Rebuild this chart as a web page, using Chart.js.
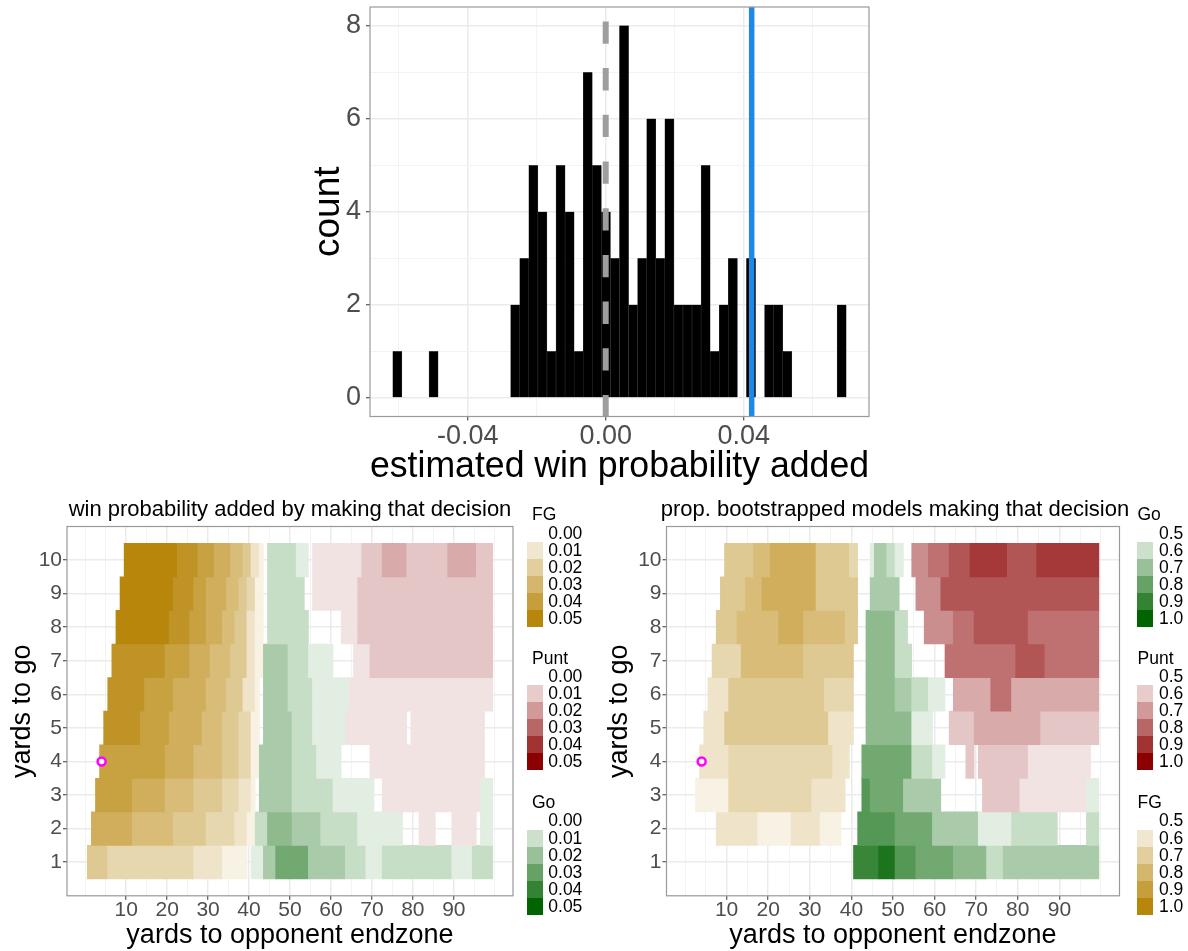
<!DOCTYPE html>
<html>
<head>
<meta charset="utf-8">
<script src="https://cdn.jsdelivr.net/npm/chart.js@4.4.1/dist/chart.umd.min.js"></script>
<style>
  html, body { margin: 0; padding: 0; background: #fff; }
  #page { position: relative; width: 1188px; height: 951px; overflow: hidden; font-family: 'Liberation Sans', Arial, sans-serif; }
  canvas { position: absolute; }
  .panel-title { position: absolute; font-size: 22px; line-height: 22px; white-space: nowrap; transform: translateX(-50%); color: #000; }
  .lg { position: absolute; font-size: 17.5px; color: #000; white-space: nowrap; }
  .lg-title { line-height: 18px; }
  .lg-key { width: 16px; height: 17px; }
  .lg-label { line-height: 17px; }
</style>
</head>
<body>
<div id="page">
  <canvas id="histChart" width="600" height="490" style="left:300px;top:0"></canvas>
  <canvas id="wpaChart" width="525" height="451" style="left:0;top:500px"></canvas>
  <canvas id="propChart" width="530" height="451" style="left:600px;top:500px"></canvas>
  <div class="panel-title" style="left:290px;top:498px">win probability added by making that decision</div>
  <div class="panel-title" style="left:895px;top:498px">prop. bootstrapped models making that decision</div>
</div>
<script>
// ---- histogram data ----
const binStart = -0.0617;
const binWidth = 0.002628;
const binCounts = [1,0,0,0,1, 0,0,0,0,0,0,0,0,
  2,3,5,4,1,5,4,1,7,5,4,3,8,2,3,6,3,6,2,2,2,5,1,2,3,
  0,3,0,2,2,1, 0,0,0,0,0, 2];
const histXTicks = [-0.04, 0, 0.04];
const histYTicks = [0, 2, 4, 6, 8];
const zeroLine = 0;
const observedWpa = 0.0423;

// ---- heatmap data ----
const yardsToGo = [1, 2, 3, 4, 5, 6, 7, 8, 9, 10];
const yardTicks = [10, 20, 30, 40, 50, 60, 70, 80, 90];
const markerYard = 4;
const markerYardsToGo = 4;

// runs per yards-to-go row: [decision, first yard, last yard, level 0-9]
// left: level 9 = 0.05 win probability added
const wpaRuns = [
  [['F',1,5,4],['F',6,26,3],['F',27,33,2],['F',34,39,1],['G',41,43,1],['G',44,46,3],['G',47,54,5],['G',55,63,3],['G',64,68,2],['G',69,72,1],['G',73,89,2],['G',90,94,1],['G',95,99,2]],
  [['F',2,11,6],['F',12,21,5],['F',22,29,4],['F',30,36,3],['F',37,39,2],['F',40,41,1],['G',42,44,2],['G',45,50,4],['G',51,57,3],['G',58,66,2],['G',67,77,1],['P',82,85,1],['P',90,95,1],['G',97,99,1]],
  [['F',3,11,7],['F',12,19,6],['F',20,26,5],['F',27,33,4],['F',34,37,3],['F',38,40,2],['F',41,41,1],['G',43,50,3],['G',51,60,2],['G',61,70,1],['P',73,96,1],['G',97,99,1]],
  [['F',4,19,7],['F',20,26,6],['F',27,33,5],['F',34,37,4],['F',38,40,3],['F',41,42,1],['G',43,50,3],['G',51,56,2],['G',57,62,1],['P',70,97,1]],
  [['F',5,13,8],['F',14,20,7],['F',21,28,6],['F',29,33,5],['F',34,37,4],['F',38,40,3],['F',41,42,1],['G',44,50,3],['G',51,55,2],['G',56,63,1],['P',64,78,1],['P',80,97,1]],
  [['F',6,14,8],['F',15,21,7],['F',22,29,6],['F',30,34,5],['F',35,38,4],['F',39,41,2],['F',42,42,1],['G',44,49,3],['G',50,55,2],['G',56,64,1],['P',65,99,1]],
  [['F',7,19,8],['F',20,25,7],['F',26,30,6],['F',31,35,5],['F',36,39,4],['F',40,41,2],['F',42,43,1],['G',44,49,3],['G',50,54,2],['G',55,60,1],['P',66,69,1],['P',70,99,2]],
  [['F',8,20,9],['F',21,25,8],['F',26,29,7],['F',30,33,6],['F',34,36,5],['F',37,39,4],['F',40,41,2],['F',42,43,1],['G',45,54,2],['P',63,66,1],['P',67,99,2]],
  [['F',9,21,9],['F',22,26,8],['F',27,29,7],['F',30,34,6],['F',35,37,5],['F',38,39,4],['F',40,41,3],['F',42,43,1],['G',45,53,2],['P',56,66,1],['P',67,99,2]],
  [['F',10,22,9],['F',23,27,8],['F',28,31,7],['F',32,35,6],['F',36,38,5],['F',39,40,4],['F',41,42,2],['F',43,43,1],['G',45,51,2],['G',52,54,1],['P',56,67,1],['P',68,72,2],['P',73,78,3],['P',79,88,2],['P',89,95,3],['P',96,99,2]]
];
// right: level 9 = all bootstrapped models agree
const propRuns = [
  [['G',41,46,7],['G',47,50,8],['G',51,55,6],['G',56,64,5],['G',65,72,4],['G',73,76,2],['G',77,99,3]],
  [['F',8,17,2],['F',18,25,1],['F',26,32,2],['F',33,37,1],['G',42,50,6],['G',51,59,5],['G',60,70,3],['G',71,78,1],['G',79,89,2],['G',97,99,2]],
  [['F',3,10,1],['F',11,30,3],['F',31,38,2],['G',43,44,6],['G',45,52,5],['G',53,61,3],['P',72,80,2],['P',81,96,1],['G',97,99,1]],
  [['F',4,10,2],['F',11,35,3],['F',36,39,2],['G',43,54,5],['G',55,59,2],['G',60,62,1],['P',68,69,2],['P',71,82,2],['P',83,97,1]],
  [['F',5,9,2],['F',10,34,4],['F',35,40,2],['G',44,54,4],['G',55,59,1],['P',64,69,2],['P',70,85,3],['P',86,99,2]],
  [['F',6,10,2],['F',11,33,4],['F',34,40,3],['G',44,50,4],['G',51,54,3],['G',55,58,2],['G',59,62,1],['P',65,73,3],['P',74,78,5],['P',79,99,3]],
  [['F',7,13,3],['F',14,28,5],['F',29,40,4],['G',44,50,4],['G',51,54,2],['P',63,79,5],['P',80,86,6],['P',87,99,5]],
  [['F',8,12,4],['F',13,22,5],['F',23,28,6],['F',29,38,5],['F',39,41,4],['G',44,50,4],['G',51,53,2],['P',58,64,4],['P',65,69,5],['P',70,82,6],['P',83,99,5]],
  [['F',9,14,4],['F',15,18,5],['F',19,31,6],['F',32,41,4],['G',45,51,3],['P',56,61,4],['P',62,99,6]],
  [['F',10,16,4],['F',17,20,5],['F',21,31,6],['F',32,39,4],['F',40,41,3],['G',45,45,1],['G',46,48,3],['G',49,50,2],['G',51,52,1],['P',55,58,4],['P',59,63,5],['P',64,68,6],['P',69,77,7],['P',78,84,6],['P',85,99,7]]
];

const decisionNames = { F: 'FG', P: 'Punt', G: 'Go' };
const decisionColors = { F: '#b8860b', P: '#8b0000', G: '#006400' };
const wpaLegendOrder = ['F', 'P', 'G'];
const propLegendOrder = ['G', 'P', 'F'];
const wpaLegendLabels = ['0.00', '0.01', '0.02', '0.03', '0.04', '0.05'];
const propLegendLabels = ['0.5', '0.6', '0.7', '0.8', '0.9', '1.0'];

// ---- styling ----
const FONT = "'Liberation Sans', Arial, sans-serif";
const TICK_GREY = '#4d4d4d';
Chart.defaults.font.family = FONT;

function blend(hex, a) {
  const n = parseInt(hex.slice(1), 16);
  const ch = [n >> 16, (n >> 8) & 255, n & 255].map(c => Math.round(255 - a * (255 - c)));
  return 'rgb(' + ch.join(',') + ')';
}

const panelBorder = {
  id: 'panelBorder',
  afterDraw(chart) {
    const { ctx, chartArea: a } = chart;
    ctx.save();
    ctx.strokeStyle = '#9a9a9a';
    ctx.lineWidth = 1.2;
    ctx.strokeRect(a.left, a.top, a.width, a.height);
    ctx.restore();
  }
};

const fitTo = size => scale => {
  if (scale.isHorizontal()) scale.height = size; else scale.width = size;
  scale.paddingLeft = scale.paddingRight = scale.paddingTop = scale.paddingBottom = 0;
};

function gridFor(isMajor) {
  return {
    offset: false,
    color: c => isMajor(c.tick.value) ? '#ebebeb' : '#f3f3f3',
    lineWidth: c => isMajor(c.tick.value) ? 1.5 : 1,
    tickColor: c => isMajor(c.tick.value) ? '#333333' : 'rgba(0,0,0,0)',
    tickLength: 4,
    tickWidth: 1
  };
}

const near = (list, v) => list.some(t => Math.abs(t - v) < 1e-9);

// ---- histogram ----
const histPoints = binCounts
  .map((c, i) => ({ x: binStart + (i + 0.5) * binWidth, y: c }))
  .filter(p => p.y > 0);

new Chart(document.getElementById('histChart'), {
  type: 'bar',
  data: {
    datasets: [
      {
        type: 'line',
        data: [{ x: zeroLine, y: 8.4 }, { x: zeroLine, y: -0.4 }],
        borderColor: '#9e9e9e', borderWidth: 6, borderDash: [22.3, 24.4], borderDashOffset: 32.3,
        pointRadius: 0, order: 0
      },
      {
        type: 'line',
        data: [{ x: observedWpa, y: 8.4 }, { x: observedWpa, y: -0.4 }],
        borderColor: '#1e88e5', borderWidth: 5.5, pointRadius: 0, order: 1
      },
      {
        type: 'bar',
        data: histPoints,
        backgroundColor: '#000000',
        borderColor: '#3a3a3a',
        borderWidth: { left: 0.5, right: 0.5, top: 0, bottom: 0 },
        borderSkipped: false,
        barPercentage: 1, categoryPercentage: 1, grouped: false,
        order: 2
      }
    ]
  },
  options: {
    responsive: false, animation: false, events: [],
    layout: { padding: { top: 7, right: 31, bottom: 0, left: 0 } },
    plugins: { legend: { display: false }, tooltip: { enabled: false } },
    scales: {
      x: {
        type: 'linear', min: -0.0683, max: 0.0763, offset: false,
        afterFit: fitTo(73.5),
        ticks: {
          stepSize: 0.02, includeBounds: false, autoSkip: false, maxRotation: 0, minRotation: 0,
          padding: 3, color: TICK_GREY, font: { size: 27, lineHeight: 1 },
          callback: v => near(histXTicks, v) ? v.toFixed(2) : ''
        },
        grid: gridFor(v => near(histXTicks, v)),
        border: { display: false },
        title: { display: true, text: 'estimated win probability added', color: '#000',
          font: { size: 37, lineHeight: 1 }, padding: { top: 0, bottom: 4.5 } }
      },
      y: {
        type: 'linear', min: -0.4, max: 8.4, offset: false,
        afterFit: fitTo(70),
        ticks: {
          stepSize: 1, includeBounds: false, autoSkip: false,
          padding: 5, color: TICK_GREY, font: { size: 27, lineHeight: 1 },
          callback: v => histYTicks.includes(v) ? String(v) : ''
        },
        grid: gridFor(v => histYTicks.includes(v)),
        border: { display: false },
        title: { display: true, text: 'count', color: '#000',
          font: { size: 37, lineHeight: 1 }, padding: { top: 10, bottom: 0 } }
      }
    }
  },
  plugins: [panelBorder]
});

// ---- heatmaps ----
function buildCells(runs) {
  const cells = [], colors = [];
  runs.forEach((row, i) => {
    row.forEach(([dec, first, last, level]) => {
      cells.push({ x: [first - 0.5, last + 0.5], y: yardsToGo[i] });
      colors.push(blend(decisionColors[dec], level / 9));
    });
  });
  return { cells, colors };
}

function heatmap(id, runs, yAxisWidth, rightPad, yTitlePad) {
  const { cells, colors } = buildCells(runs);
  return new Chart(document.getElementById(id), {
    type: 'bar',
    data: {
      datasets: [
        {
          type: 'scatter',
          data: [{ x: markerYard, y: markerYardsToGo }],
          pointRadius: 4, pointBorderWidth: 2.5,
          pointBorderColor: '#ff00ff', pointBackgroundColor: '#ffffff',
          order: 0
        },
        {
          type: 'bar', indexAxis: 'y',
          data: cells, backgroundColor: colors, borderWidth: 0,
          barPercentage: 1, categoryPercentage: 1, grouped: false,
          order: 1
        }
      ]
    },
    options: {
      responsive: false, animation: false, events: [],
      layout: { padding: { top: 26.5, right: rightPad, bottom: 0, left: 0 } },
      plugins: { legend: { display: false }, tooltip: { enabled: false } },
      scales: {
        x: {
          type: 'linear', min: -4.45, max: 104.45, offset: false,
          afterFit: fitTo(55.2),
          ticks: {
            stepSize: 5, includeBounds: false, autoSkip: false, maxRotation: 0, minRotation: 0,
            padding: 0, color: TICK_GREY, font: { size: 21, lineHeight: 1 },
            callback: v => yardTicks.includes(v) ? String(v) : ''
          },
          grid: gridFor(v => yardTicks.includes(v)),
          border: { display: false },
          title: { display: true, text: 'yards to opponent endzone', color: '#000',
            font: { size: 27, lineHeight: 1 }, padding: { top: 0, bottom: 1.5 } }
        },
        y: {
          type: 'linear', min: 0, max: 11, offset: false,
          afterFit: fitTo(yAxisWidth),
          ticks: {
            stepSize: 1, includeBounds: false, autoSkip: false,
            padding: 1, color: TICK_GREY, font: { size: 21, lineHeight: 1 },
            callback: v => yardsToGo.includes(v) ? String(v) : ''
          },
          grid: gridFor(v => yardsToGo.includes(v)),
          border: { display: false },
          title: { display: true, text: 'yards to go', color: '#000',
            font: { size: 27, lineHeight: 1 }, padding: { top: yTitlePad, bottom: 0 } }
        }
      }
    },
    plugins: [panelBorder]
  });
}

heatmap('wpaChart', wpaRuns, 67, 12, 9.5);
heatmap('propChart', propRuns, 66.5, 10.5, 6.5);

// ---- legends ----
// [title centre, top of first coloured key]
const legendGroups = [[514, 542], [657.5, 685], [802, 829.5]];
const KEY_H = 17.1;

function addLegend(order, labels, titleLeft, keyLeft, labelLeft) {
  const page = document.getElementById('page');
  const add = (cls, left, top, text, bg) => {
    const d = document.createElement('div');
    d.className = 'lg ' + cls;
    d.style.left = left + 'px';
    d.style.top = top + 'px';
    if (text) d.textContent = text;
    if (bg) d.style.background = bg;
    page.appendChild(d);
  };
  order.forEach((dec, g) => {
    const [titleY, keyTop] = legendGroups[g];
    add('lg-title', titleLeft, titleY - 9, decisionNames[dec]);
    labels.forEach((lab, i) => {
      const top = keyTop + (i - 1) * KEY_H;
      if (i > 0) add('lg-key', keyLeft, top, '', blend(decisionColors[dec], i / (labels.length - 1)));
      add('lg-label', labelLeft, top, lab);
    });
  });
}

addLegend(wpaLegendOrder, wpaLegendLabels, 532, 527.3, 548.3);
addLegend(propLegendOrder, propLegendLabels, 1137.5, 1137.3, 1159);
</script>
</body>
</html>
